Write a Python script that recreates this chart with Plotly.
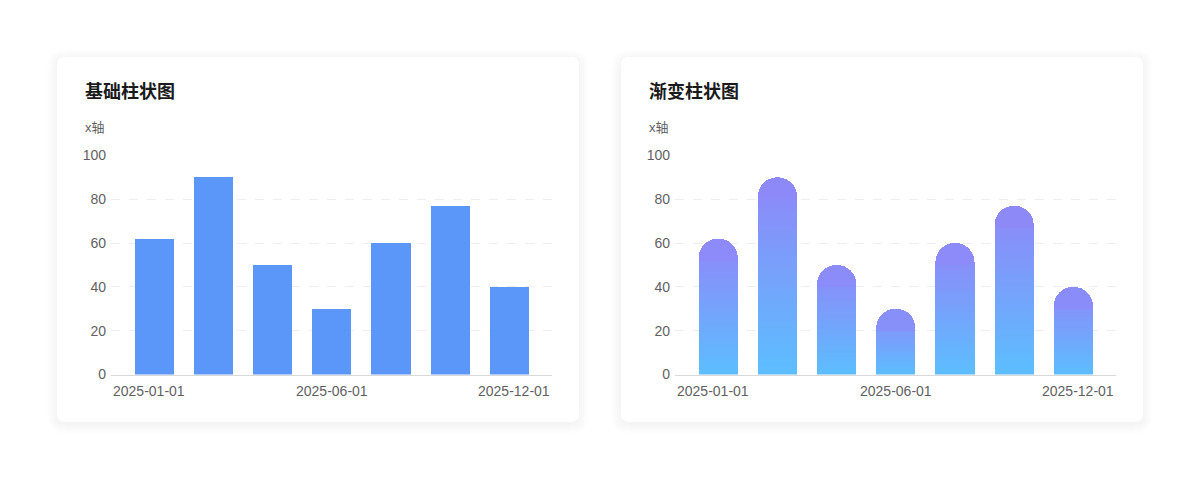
import plotly.graph_objects as go

# data
dates = ["2025-01-01", "2025-03-01", "2025-04-01", "2025-06-01",
         "2025-08-01", "2025-10-01", "2025-12-01"]
values = [62, 90, 50, 30, 60, 77, 40]
shown_labels = ["2025-01-01", "2025-06-01", "2025-12-01"]
titles = ["基础柱状图", "渐变柱状图"]
y_title = "x轴"

# page body has an 8px margin, so the figure is a bit smaller and offset
OFF = 8
W, H = 1200 - 2 * OFF, 479 - 2 * OFF
FONT = "Liberation Sans, Noto Sans CJK SC, sans-serif"
BAR_BLUE = "#5b97f9"
GRAD_TOP = (144, 134, 248)
GRAD_BOTTOM = (92, 190, 255)
N_SLICES = 40
CAP = 10  # top slice that carries the round end
X_RANGE = [-0.73, 6.72]


def px(x):
    return (x - OFF) / W


def py(y):
    return 1 - (y - OFF) / H


def rr_path(x0, y0, x1, y1, r):
    # rounded rectangle, screen px coords (y down) -> paper path
    def p(x, y):
        return f"{px(x):.5f},{py(y):.5f}"
    return (f"M {p(x0 + r, y0)} L {p(x1 - r, y0)} Q {p(x1, y0)} {p(x1, y0 + r)} "
            f"L {p(x1, y1 - r)} Q {p(x1, y1)} {p(x1 - r, y1)} "
            f"L {p(x0 + r, y1)} Q {p(x0, y1)} {p(x0, y1 - r)} "
            f"L {p(x0, y0 + r)} Q {p(x0, y0)} {p(x0 + r, y0)} Z")


def grad(t):
    c = [round(GRAD_BOTTOM[i] + (GRAD_TOP[i] - GRAD_BOTTOM[i]) * t) for i in range(3)]
    return f"rgb({c[0]},{c[1]},{c[2]})"


fig = go.Figure()

# left chart: plain bars
fig.add_trace(go.Bar(x=dates, y=values, marker=dict(color=BAR_BLUE, line=dict(width=0)),
                     width=0.66, xaxis="x", yaxis="y", showlegend=False))

# right chart: gradient done with stacked slices, rounded cap on top
for k in range(N_SLICES):
    seg = [(v - CAP) / N_SLICES for v in values]
    cols = [grad((k + 0.5) * s / v) for s, v in zip(seg, values)]
    fig.add_trace(go.Bar(
        x=dates, y=seg,
        marker=dict(color=cols, line=dict(width=0), cornerradius="50%" if k == 0 else None),
        width=0.66, xaxis="x2", yaxis="y2", showlegend=False))
fig.add_trace(go.Bar(
    x=dates, y=[CAP] * len(values),
    marker=dict(color=[grad(1 - CAP / 2 / v) for v in values], line=dict(width=0)),
    width=0.66, xaxis="x2", yaxis="y2", showlegend=False))

# cards with soft shadow
shapes = []
cards = [(57, 57, 579, 422), (621, 57, 1143, 422)]
for (x0, y0, x1, y1) in cards:
    for s in range(10, 0, -1):
        shapes.append(dict(type="path", xref="paper", yref="paper", layer="below",
                           path=rr_path(x0 - s, y0 - s + 2, x1 + s, y1 + s + 2, 8 + s),
                           fillcolor="rgba(0,0,0,0.005)", line=dict(width=0)))
    shapes.append(dict(type="path", xref="paper", yref="paper", layer="below",
                       path=rr_path(x0, y0, x1, y1, 8),
                       fillcolor="white", line=dict(width=0)))

annotations = []
for i, (x0, y0, x1, y1) in enumerate(cards):
    annotations.append(dict(text=f"<b>{titles[i]}</b>", xref="paper", yref="paper",
                            x=px(x0 + 26), y=py(92), xanchor="left", yanchor="middle",
                            showarrow=False, font=dict(size=18, color="#1a1a1a", family=FONT)))
    annotations.append(dict(text=y_title, xref="paper", yref="paper",
                            x=px(x0 + 26), y=py(128), xanchor="left", yanchor="middle",
                            showarrow=False, font=dict(size=13, color="#5f5f5f", family=FONT)))
    # x tick labels, edge ones kept inside the axis
    xa = "x" if i == 0 else "x2"
    anchors = ["left", "center", "right"]
    xs = [X_RANGE[0], dates.index(shown_labels[1]), X_RANGE[1]]
    for lab, xv, anc in zip(shown_labels, xs, anchors):
        annotations.append(dict(text=lab, xref=xa, yref="paper", x=xv, y=py(391),
                                xanchor=anc, yanchor="middle", showarrow=False,
                                font=dict(size=14, color="#5f5f5f", family=FONT)))

xaxis_common = dict(type="category", categoryorder="array", categoryarray=dates,
                    range=X_RANGE, showgrid=False, showticklabels=False, ticks="",
                    showline=True, linecolor="#d9d9d9", linewidth=1, zeroline=False,
                    automargin=False)
yaxis_common = dict(range=[0, 100.2], tickvals=[0, 20, 40, 60, 80, 100], showgrid=True,
                    gridcolor="#eeeeee", griddash="dash", gridwidth=1, zeroline=False,
                    showline=False, ticks="", ticklabelstandoff=4, automargin=False,
                    tickfont=dict(size=14, color="#5f5f5f", family=FONT),
                    domain=[py(374.5), py(155)])

fig.update_layout(
    width=W, height=H, autosize=False,
    margin=dict(l=0, r=0, t=0, b=0),
    paper_bgcolor="white", plot_bgcolor="rgba(0,0,0,0)",
    barmode="stack",
    font=dict(family=FONT),
    xaxis=dict(xaxis_common, domain=[px(111), px(552)], anchor="y"),
    yaxis=dict(yaxis_common, anchor="x"),
    xaxis2=dict(xaxis_common, domain=[px(675), px(1116)], anchor="y2"),
    yaxis2=dict(yaxis_common, anchor="x2"),
    shapes=shapes,
    annotations=annotations,
)

fig.write_html("out.html")
